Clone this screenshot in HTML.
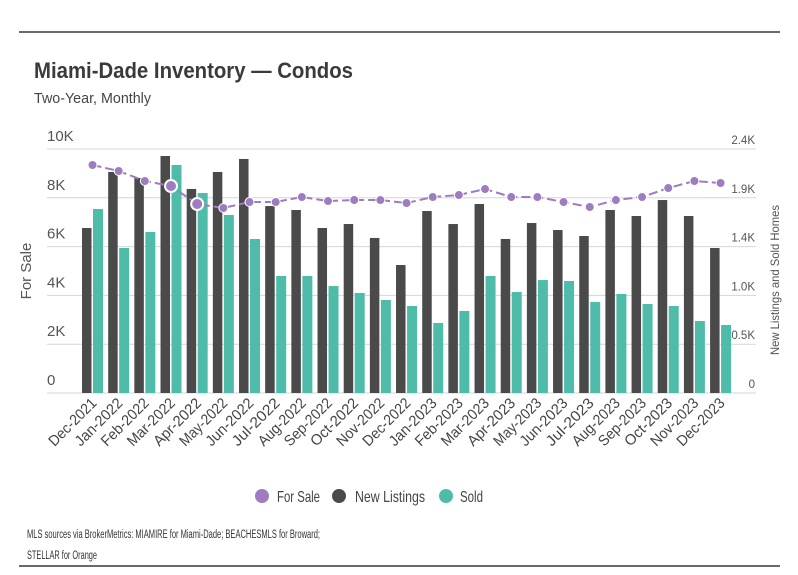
<!DOCTYPE html>
<html><head><meta charset="utf-8"><style>
body{margin:0;background:#fff}
svg{display:block;font-family:"Liberation Sans",sans-serif}
</style></head><body>
<svg id="chart" width="798" height="575" viewBox="0 0 798 575">
<line x1="19" y1="32" x2="780" y2="32" stroke="#111" stroke-width="1.3"/>
<text x="34" y="78" font-size="22" font-weight="bold" fill="#3a3a3a" textLength="319" lengthAdjust="spacingAndGlyphs">Miami-Dade Inventory — Condos</text>
<text x="34" y="103" font-size="15" fill="#444" textLength="117" lengthAdjust="spacingAndGlyphs">Two-Year, Monthly</text>
<g id="grid"></g>
<g id="bars"></g>
<g id="line"></g>
<g id="axes"></g>
<text transform="translate(31,271) rotate(-90)" text-anchor="middle" font-size="15" fill="#555">For Sale</text>
<text transform="translate(779,280) rotate(-90)" text-anchor="middle" font-size="12" fill="#555" textLength="150" lengthAdjust="spacingAndGlyphs">New Listings and Sold Homes</text>
<g>
<g><circle cx="262" cy="496" r="7" fill="#9d7cbf"/><text x="277" y="502" font-size="16" fill="#444" textLength="43" lengthAdjust="spacingAndGlyphs">For Sale</text></g>
<g><circle cx="339" cy="496" r="7" fill="#4a4a4a"/><text x="355" y="502" font-size="16" fill="#444" textLength="70" lengthAdjust="spacingAndGlyphs">New Listings</text></g>
<g><circle cx="446" cy="496" r="7" fill="#4fbcaa"/><text x="460" y="502" font-size="16" fill="#444" textLength="23" lengthAdjust="spacingAndGlyphs">Sold</text></g>
</g>
<text x="27" y="538" font-size="11.5" fill="#333" textLength="293" lengthAdjust="spacingAndGlyphs">MLS sources via BrokerMetrics: MIAMIRE for Miami-Dade; BEACHESMLS for Broward;</text>
<text x="27" y="559" font-size="11.5" fill="#333" textLength="70" lengthAdjust="spacingAndGlyphs">STELLAR for Orange</text>
<line x1="19" y1="566" x2="780" y2="566" stroke="#111" stroke-width="1.3"/>
</svg>
<script>
const months=["Dec-2021","Jan-2022","Feb-2022","Mar-2022","Apr-2022","May-2022","Jun-2022","Jul-2022","Aug-2022","Sep-2022","Oct-2022","Nov-2022","Dec-2022","Jan-2023","Feb-2023","Mar-2023","Apr-2023","May-2023","Jun-2023","Jul-2023","Aug-2023","Sep-2023","Oct-2023","Nov-2023","Dec-2023"];
const newListings=[1623,2174,2115,2331,2007,2174,2302,1839,1800,1623,1662,1525,1259,1790,1662,1859,1515,1672,1603,1544,1800,1741,1898,1741,1426];
const sold=[1810,1426,1584,2243,1967,1751,1515,1151,1151,1052,984,915,856,689,807,1151,993,1111,1102,895,974,875,856,708,669];
const forSale=[9344,9098,8688,8483,7745,7582,7827,7827,8032,7868,7909,7909,7786,8032,8114,8360,8032,8032,7827,7622,7909,8032,8401,8688,8606];
const leftTicks=[0,2000,4000,6000,8000,10000];
const leftLabels=["0","2K","4K","6K","8K","10K"];
const rightTicks=[0,480,960,1440,1920,2400];
const rightLabels=["0","0.5K","1.0K","1.4K","1.9K","2.4K"];
const NS="http://www.w3.org/2000/svg";
const y0=393,y1=149,leftMax=10000,rightMax=2400;
const yL=v=>y0-(v/leftMax)*(y0-y1);
const yR=v=>y0-(v/rightMax)*(y0-y1);
const xC=i=>92.5+i*26.17;
function mk(tag,attrs,parent){const e=document.createElementNS(NS,tag);for(const k in attrs)e.setAttribute(k,attrs[k]);parent.appendChild(e);return e;}
const grid=document.getElementById('grid'),bars=document.getElementById('bars'),line=document.getElementById('line'),axes=document.getElementById('axes');
leftTicks.forEach((t,i)=>{
  const y=yL(t);
  const g=mk('line',{x1:47,x2:756,y1:y,y2:y,stroke:'#d6d6d6','stroke-width':1},grid);
  
  
  const tl=mk('text',{x:47,y:y-8,'font-size':15,fill:'#555'},axes);
  tl.textContent=leftLabels[i];
  
  
});
rightTicks.forEach((t,i)=>{
  const tr=mk('text',{x:755,y:yR(t)-5,'font-size':11.5,fill:'#555','text-anchor':'end'},axes);
  tr.textContent=rightLabels[i];
  
  
});
months.forEach((m,i)=>{
  const c=xC(i);
  const b1=mk('rect',{x:c-10.5,y:yR(newListings[i]),width:9.5,height:y0-yR(newListings[i]),fill:'#4a4a4a'},bars);
  
  
  const b2=mk('rect',{x:c+0.5,y:yR(sold[i]),width:10,height:y0-yR(sold[i]),fill:'#4fbcaa'},bars);
  
  
  const lab=mk('text',{transform:`translate(${c+5},404) rotate(-45)`,'text-anchor':'end','font-size':15,fill:'#444',textLength:m.length*7.6,lengthAdjust:'spacingAndGlyphs'},axes);
  lab.textContent=m;
  
  
});
const pts=forSale.map((v,i)=>xC(i)+','+yL(v)).join(' ');
const pl=mk('polyline',{points:pts,fill:'none',stroke:'#9d7cbf','stroke-width':2,'stroke-dasharray':'9,4'},line);


forSale.forEach((v,i)=>{
  const big=(i==3||i==4);
  const p=mk('circle',{cx:xC(i),cy:yL(v),r:big?6:4.5,fill:'#9d7cbf',stroke:'#fff','stroke-width':big?2:1},line);
  
  
});
</script>
</body></html>
